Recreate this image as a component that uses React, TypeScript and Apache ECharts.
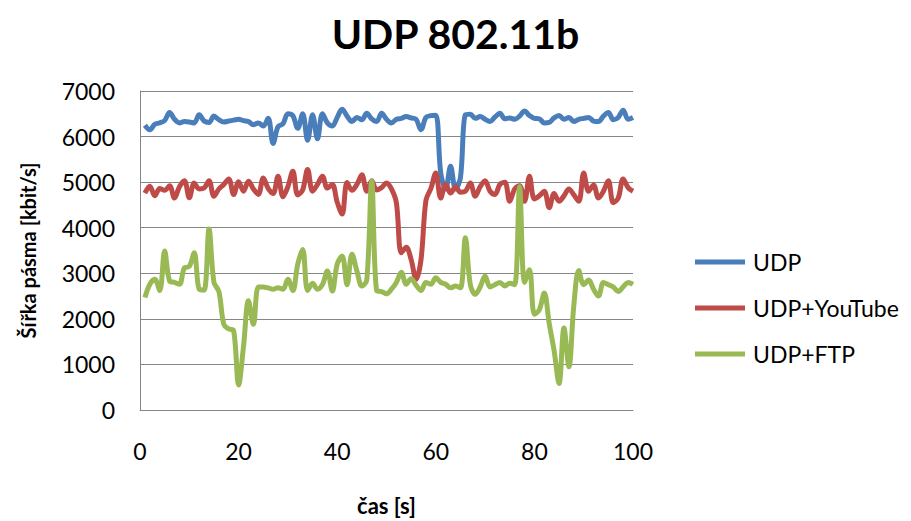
import React, { useEffect, useRef } from "react";
import * as echarts from "echarts";

const titleText = "UDP 802.11b";
const xName = "čas [s]";
const yName = "Šířka pásma [kbit/s]";
const seriesNames = ["UDP", "UDP+YouTube", "UDP+FTP"];
const colors = ["#4A7EBB", "#BE4B48", "#98B954"];

const udp = [
  6250, 6150, 6270, 6300, 6350, 6530, 6380, 6300, 6330, 6320,
  6300, 6480, 6340, 6310, 6450, 6370, 6320, 6340, 6360, 6380,
  6350, 6330, 6260, 6300, 6230, 6400, 5850, 6220, 6280, 6500,
  6460, 6180, 6500, 5920, 6480, 5950, 6500, 6300, 6230, 6420,
  6600, 6450, 6330, 6420, 6370, 6510, 6390, 6330, 6510, 6380,
  6300, 6380, 6400, 6440, 6410, 6380, 6150, 6420, 6460, 6470,
  5200, 4850, 5350, 4850, 5100, 6480, 6490, 6400, 6440, 6380,
  6330, 6430, 6510, 6390, 6410, 6380, 6450, 6560, 6460, 6400,
  6390, 6300, 6310, 6410, 6460, 6380, 6420, 6330, 6380, 6400,
  6420, 6340, 6330, 6450, 6530, 6370, 6420, 6580, 6380, 6420,
];

const udpYoutube = [
  4760, 4910, 4700, 4860, 4820, 4920, 4650, 4900, 5030, 4660,
  4980, 4850, 4870, 5030, 4690, 4850, 4950, 5070, 4730, 5010,
  4800, 5020, 4850, 4730, 5090, 4860, 4750, 5130, 4680, 4900,
  5240, 4720, 4830, 5280, 4800, 4950, 5130, 4870, 4950, 4560,
  4300, 4990, 4820, 4950, 5160, 4800, 5030, 4830, 4880, 4980,
  4850, 4550, 3450, 3570, 3300, 2870, 3300, 4600, 4860, 5200,
  4650, 4950, 4760, 4900, 4780, 4800, 4980, 4690, 4900, 5030,
  4800, 4730, 4950, 5000, 4580, 4850, 4920, 4580, 5130, 4630,
  4700, 4800, 4440, 4750, 4580, 4700, 4850, 4720, 4580, 5200,
  4800, 4940, 4650, 4800, 5030, 4550, 4650, 5070, 4880, 4800,
];

const udpFtp = [
  2470, 2760, 2870, 2620, 3490, 2830, 2800, 2760, 3120, 3150,
  3450, 2650, 2630, 3970, 2800, 2600, 1880, 1780, 1740, 550,
  1400, 2400, 1880, 2700, 2700, 2680, 2650, 2680, 2650, 2870,
  2620, 3200, 3520, 2620, 2780, 2650, 2750, 3050, 2610, 3200,
  3380, 2750, 3420, 3050, 2720, 2850, 5020, 2620, 2600, 2550,
  2650, 2800, 3020, 2760, 2880, 2740, 2620, 2800, 2760, 2900,
  2800, 2760, 2680, 2720, 2680, 3780, 2750, 2540, 2700, 2940,
  2700, 2750, 2800, 2720, 2780, 2750, 4900, 2800, 3080, 2100,
  2200, 2570, 1900, 1300, 580, 1800, 950, 2300, 3060, 2750,
  2850, 2650, 2500, 2800, 2750, 2700, 2600, 2700, 2800, 2760,
];

const allSeries = [udp, udpYoutube, udpFtp];
const FONT = "Lato, 'Open Sans', sans-serif";

export default function App() {
  const ref = useRef<HTMLDivElement>(null);
  useEffect(() => {
    if (!ref.current) return;
    const chart = echarts.init(ref.current, undefined, { renderer: "svg" });
    chart.setOption({
      animation: false,
      backgroundColor: "#ffffff",
      title: {
        text: titleText,
        left: "center",
        top: 8,
        textStyle: { fontFamily: FONT, fontSize: 41, fontWeight: "bold", color: "#000" },
      },
      legend: {
        orient: "vertical",
        left: 695,
        top: 249,
        padding: 0,
        itemWidth: 50,
        itemHeight: 5,
        itemGap: 20,
        icon: "rect",
        data: seriesNames,
        textStyle: { fontFamily: FONT, fontSize: 23, color: "#000", lineHeight: 26, padding: [0, 0, 0, 3] },
      },
      grid: { left: 140, top: 91, width: 493, height: 323 },
      xAxis: {
        type: "value",
        min: 0,
        max: 100,
        interval: 20,
        name: xName,
        nameLocation: "middle",
        nameGap: 84,
        nameTextStyle: { fontFamily: FONT, fontSize: 22, fontWeight: "bold", color: "#000" },
        axisLine: { show: true, lineStyle: { color: "#868686", width: 1 } },
        axisTick: { show: false },
        splitLine: { show: false },
        axisLabel: { margin: 29, fontFamily: FONT, fontSize: 23, color: "#000", formatter: (v: number) => String(v) },
      },
      yAxis: {
        type: "value",
        min: 0,
        max: 7000,
        interval: 1000,
        name: yName,
        nameLocation: "middle",
        nameGap: 102,
        nameTextStyle: { fontFamily: FONT, fontSize: 20, fontWeight: "bold", color: "#000" },
        axisLine: { show: true, lineStyle: { color: "#868686", width: 1 } },
        axisTick: { show: false },
        splitLine: { show: true, lineStyle: { color: "#868686", width: 1 } },
        axisLabel: { margin: 25, fontFamily: FONT, fontSize: 23, color: "#000", formatter: (v: number) => String(v) },
      },
      series: allSeries.map((vals, i) => ({
        name: seriesNames[i],
        type: "line",
        smooth: 0.35,
        showSymbol: false,
        symbol: "none",
        color: colors[i],
        lineStyle: { width: 5, color: colors[i] },
        data: vals.map((v, k) => [k + 1, v]),
      })),
    });
    return () => chart.dispose();
  }, []);
  return (
    <div
      ref={ref}
      style={{ position: "fixed", left: 0, top: 0, width: 911, height: 521 }}
    />
  );
}
